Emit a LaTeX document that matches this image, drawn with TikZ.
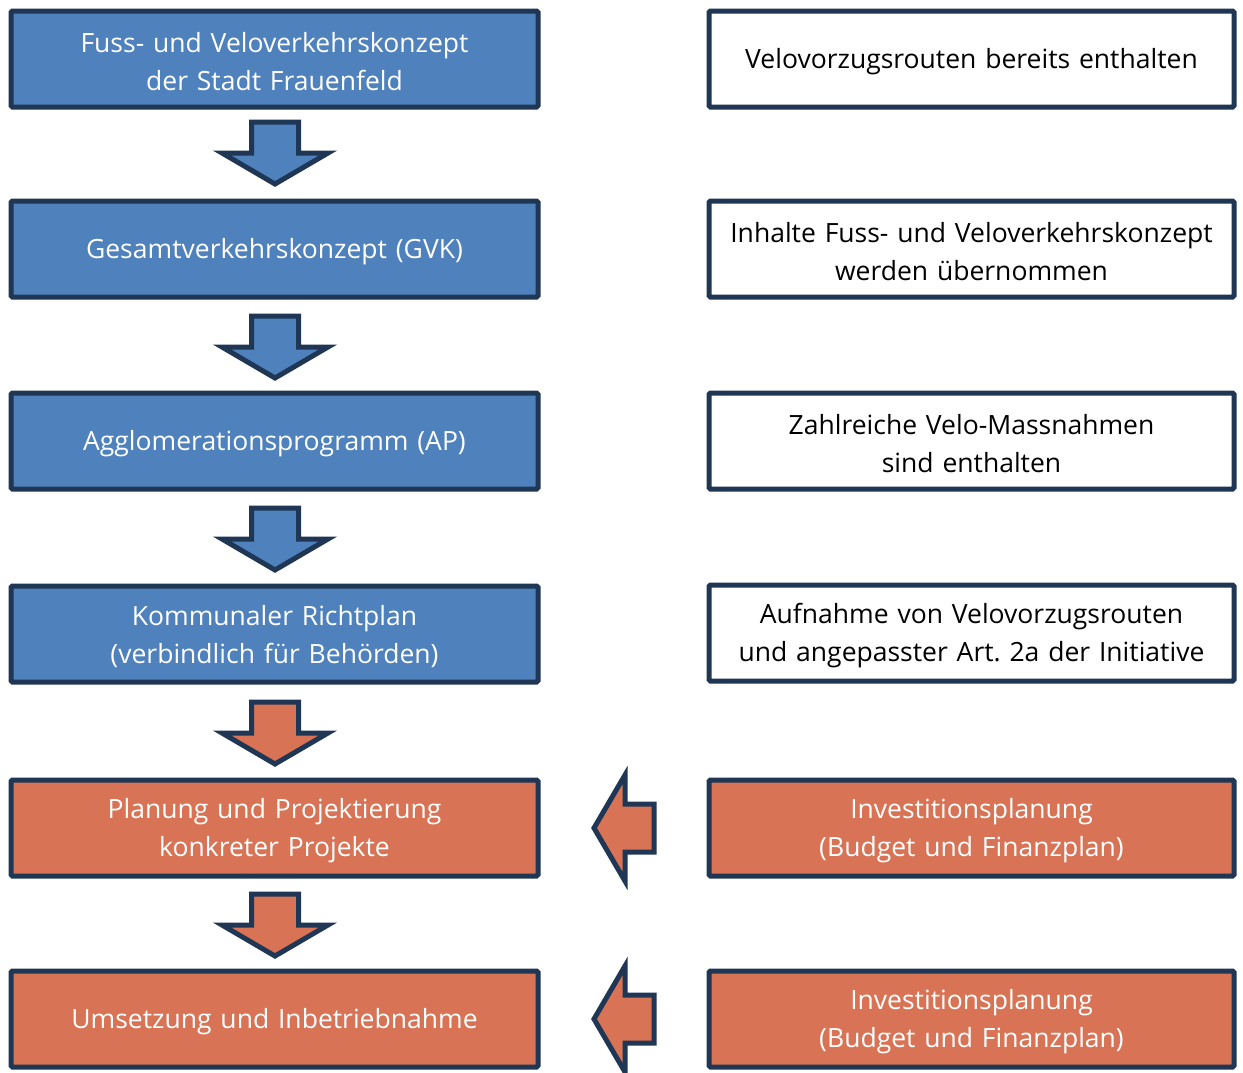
\documentclass[tikz,border=0pt]{standalone}
\usepackage{fontspec}
\setmainfont{Open Sans}
\frenchspacing
\definecolor{boxblue}{HTML}{4F81BD}
\definecolor{navy}{HTML}{1F3654}
\definecolor{boxorange}{HTML}{D87356}
\tikzset{
  basebox/.style={draw=navy, line width=5pt, rounded corners=1.5pt, minimum height=96pt, inner sep=0pt, align=center, font=\fontsize{26.5}{38}\selectfont, execute at begin node={\rule{0pt}{26pt}}},
  leftbox/.style={basebox, minimum width=527pt, text width=520pt},
  rightbox/.style={basebox, minimum width=525pt, text width=518pt},
  bluebox/.style={leftbox, fill=boxblue, text=white},
  orangebox/.style={fill=boxorange, text=white},
  whitebox/.style={rightbox, fill=white, text=black},
  blockarrow/.style={draw=navy, line width=5pt, line join=miter, miter limit=10},
}
\newcommand\dnarrow[3]{% x center, y top, fill
  \draw[blockarrow, fill=#3] (#1-23.5,#2) -- (#1+23.5,#2) -- (#1+23.5,#2+31) -- (#1+53,#2+31) -- (#1,#2+62) -- (#1-53,#2+31) -- (#1-23.5,#2+31) -- cycle;}
\newcommand\lfarrow[2]{% tip x, y center
  \draw[blockarrow, fill=boxorange] (#1,#2) -- (#1+31,#2-53) -- (#1+31,#2-24) -- (#1+60,#2-24) -- (#1+60,#2+24) -- (#1+31,#2+24) -- (#1+31,#2+53) -- cycle;}
\begin{document}
\begin{tikzpicture}[x=1pt,y=-1pt]
\useasboundingbox (0,0) rectangle (1243,1072);
% left column
\node[bluebox] (l1) at (274.5,59) {Fuss- und Veloverkehrskonzept\\der Stadt Frauenfeld};
\node[bluebox] (l2) at (274.5,249) {Gesamtverkehrskonzept (GVK)};
\node[bluebox] (l3) at (274.5,441) {Agglomerationsprogramm (AP)};
\node[bluebox] (l4) at (274.5,634) {Kommunaler Richtplan\\(verbindlich für Behörden)};
\node[bluebox, orangebox] (l5) at (274.5,828) {Planung und Projektierung\\konkreter Projekte};
\node[bluebox, orangebox] (l6) at (274.5,1019) {Umsetzung und Inbetriebnahme};
% right column
\node[whitebox] (r1) at (971.5,59) {Velovorzugsrouten bereits enthalten};
\node[whitebox] (r2) at (971.5,249) {Inhalte Fuss- und Veloverkehrskonzept\\werden übernommen};
\node[whitebox] (r3) at (971.5,441) {Zahlreiche Velo-Massnahmen\\sind enthalten};
\node[whitebox] (r4) at (971.5,633) {Aufnahme von Velovorzugsrouten\\und angepasster Art. 2a der Initiative};
\node[rightbox, orangebox] (r5) at (971.5,828) {Investitionsplanung\\(Budget und Finanzplan)};
\node[rightbox, orangebox] (r6) at (971.5,1019) {Investitionsplanung\\(Budget und Finanzplan)};
% down arrows
\dnarrow{275}{122}{boxblue}
\dnarrow{275}{316}{boxblue}
\dnarrow{275}{508}{boxblue}
\dnarrow{275}{702}{boxorange}
\dnarrow{275}{894}{boxorange}
% left arrows
\lfarrow{594}{828}
\lfarrow{594}{1019}
\end{tikzpicture}
\end{document}
